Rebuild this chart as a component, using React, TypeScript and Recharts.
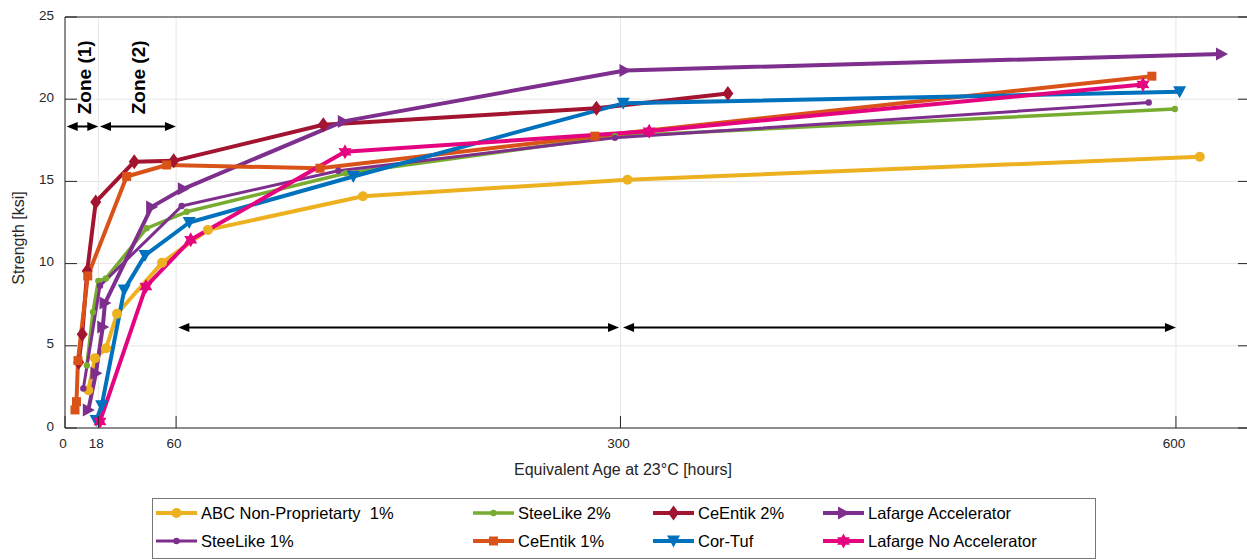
import React from 'react';
import { LineChart, Line, XAxis, YAxis, CartesianGrid, ReferenceLine, ReferenceDot } from 'recharts';

type Pt = { h: number; ksi: number };

// Strength vs equivalent age
const abcNonProp: Pt[] = [
  { h: 12.6, ksi: 2.3 }, { h: 16.2, ksi: 4.25 }, { h: 22.2, ksi: 4.85 }, { h: 28.1, ksi: 6.95 },
  { h: 52.4, ksi: 10.05 }, { h: 77.2, ksi: 12.05 }, { h: 160.9, ksi: 14.1 }, { h: 303.8, ksi: 15.1 },
  { h: 612.9, ksi: 16.5 },
];
const steeLike2: Pt[] = [
  { h: 11.8, ksi: 3.8 }, { h: 15.1, ksi: 7.05 }, { h: 18, ksi: 8.95 }, { h: 22.1, ksi: 9.1 },
  { h: 44.1, ksi: 12.15 }, { h: 65.7, ksi: 13.15 }, { h: 151.7, ksi: 15.5 }, { h: 297, ksi: 17.75 },
  { h: 599.4, ksi: 19.4 },
];
const ceEntik2: Pt[] = [
  { h: 7.4, ksi: 4.0 }, { h: 9.3, ksi: 5.7 }, { h: 12.0, ksi: 9.55 }, { h: 16.6, ksi: 13.75 },
  { h: 37.4, ksi: 16.2 }, { h: 58.7, ksi: 16.25 }, { h: 139.5, ksi: 18.45 }, { h: 287, ksi: 19.45 },
  { h: 358, ksi: 20.35 },
];
const lafargeAcc: Pt[] = [
  { h: 12.6, ksi: 1.1 }, { h: 16.7, ksi: 3.33 }, { h: 20.4, ksi: 6.15 }, { h: 21.6, ksi: 7.6 },
  { h: 46.8, ksi: 13.45 }, { h: 63.9, ksi: 14.55 }, { h: 150.3, ksi: 18.65 }, { h: 302.4, ksi: 21.75 },
  { h: 624.6, ksi: 22.75 },
];
const steeLike1: Pt[] = [
  { h: 9.9, ksi: 2.4 }, { h: 18.9, ksi: 8.65 }, { h: 63, ksi: 13.5 }, { h: 147.6, ksi: 15.65 },
  { h: 297, ksi: 17.65 }, { h: 585.3, ksi: 19.8 },
];
const ceEntik1: Pt[] = [
  { h: 5.4, ksi: 1.1 }, { h: 6.2, ksi: 1.6 }, { h: 7.0, ksi: 4.1 }, { h: 12.3, ksi: 9.25 },
  { h: 33.3, ksi: 15.3 }, { h: 54.9, ksi: 16.0 }, { h: 137.7, ksi: 15.8 }, { h: 286.2, ksi: 17.75 },
  { h: 587, ksi: 21.4 },
];
const corTuf: Pt[] = [
  { h: 16.8, ksi: 0.45 }, { h: 19.8, ksi: 1.35 }, { h: 32, ksi: 8.4 }, { h: 43.2, ksi: 10.5 },
  { h: 67.1, ksi: 12.5 }, { h: 155.7, ksi: 15.3 }, { h: 301.5, ksi: 19.75 }, { h: 602, ksi: 20.45 },
];
const lafargeNoAcc: Pt[] = [
  { h: 18.9, ksi: 0.4 }, { h: 43.7, ksi: 8.6 }, { h: 67.9, ksi: 11.45 }, { h: 151.2, ksi: 16.8 },
  { h: 315.5, ksi: 18.05 }, { h: 582.2, ksi: 20.9 },
];

const xTicks = [0, 18, 60, 300, 600];
const yTicks = [0, 5, 10, 15, 20, 25];

// annotation arrows [from h, to h, at ksi]
const zoneArrows = [[0.9, 18, 18.34], [18.9, 59.9, 18.34]];
const periodArrows = [[61.2, 299.2, 6.12], [301.4, 600, 6.12]];
const zoneLabels = [{ text: 'Zone (1)', h: 10.8, ksi: 21.33 }, { text: 'Zone (2)', h: 39.7, ksi: 21.33 }];

type Mk = 'circle' | 'dot' | 'diamond' | 'square' | 'triRight' | 'triDown' | 'hexagram';

const series: { name: string; data: Pt[]; color: string; marker: Mk; width: number }[] = [
  { name: 'ABC Non-Proprietarty  1%', data: abcNonProp, color: '#EDB120', marker: 'circle', width: 4 },
  { name: 'SteeLike 2%', data: steeLike2, color: '#77AC30', marker: 'dot', width: 3.5 },
  { name: 'CeEntik 2%', data: ceEntik2, color: '#A2142F', marker: 'diamond', width: 4 },
  { name: 'Lafarge Accelerator', data: lafargeAcc, color: '#7E2F8E', marker: 'triRight', width: 4 },
  { name: 'SteeLike 1%', data: steeLike1, color: '#7E2F8E', marker: 'dot', width: 3 },
  { name: 'CeEntik 1%', data: ceEntik1, color: '#D95319', marker: 'square', width: 4 },
  { name: 'Cor-Tuf', data: corTuf, color: '#0072BD', marker: 'triDown', width: 4 },
  { name: 'Lafarge No Accelerator', data: lafargeNoAcc, color: '#E5047F', marker: 'hexagram', width: 4 },
];

const FONT = '"Liberation Sans", Arial, Helvetica, sans-serif';
const AX = '#262626';
const TL = 12;
const BOTTOM_GAP = 12;
const LEFT_GAP = 11;

function marker(kind: Mk, cx: number, cy: number, color: string, key?: string) {
  if (cx == null || cy == null || isNaN(cx) || isNaN(cy)) return <g key={key} />;
  switch (kind) {
    case 'circle':
      return <circle key={key} cx={cx} cy={cy} r={5} fill={color} />;
    case 'dot':
      return <circle key={key} cx={cx} cy={cy} r={3.2} fill={color} />;
    case 'diamond':
      return <polygon key={key} fill={color} points={`${cx},${cy - 7.5} ${cx + 5.5},${cy} ${cx},${cy + 7.5} ${cx - 5.5},${cy}`} />;
    case 'square':
      return <rect key={key} x={cx - 4.5} y={cy - 4.5} width={9} height={9} fill={color} />;
    case 'triRight':
      return <polygon key={key} fill={color} points={`${cx + 6.5},${cy} ${cx - 5.5},${cy - 6.5} ${cx - 5.5},${cy + 6.5}`} />;
    case 'triDown':
      return <polygon key={key} fill={color} points={`${cx - 6.5},${cy - 5.5} ${cx + 6.5},${cy - 5.5} ${cx},${cy + 6.5}`} />;
    case 'hexagram': {
      const pts: string[] = [];
      for (let i = 0; i < 12; i++) {
        const r = i % 2 === 0 ? 7.5 : 4.2;
        const a = -Math.PI / 2 + (i * Math.PI) / 6;
        pts.push(`${cx + r * Math.cos(a)},${cy + r * Math.sin(a)}`);
      }
      return <polygon key={key} fill={color} points={pts.join(' ')} />;
    }
  }
  return <g key={key} />;
}

const BottomTick = (p: any) => {
  const { x, y, payload } = p;
  const ay = y - BOTTOM_GAP;
  return (
    <g>
      <line x1={x} y1={ay} x2={x} y2={ay - TL} stroke={AX} />
      <text x={x - 2} y={ay + 20.3} textAnchor="middle" fontSize={13.5} fill={AX} fontFamily={FONT}>{payload.value}</text>
    </g>
  );
};

const LeftTick = (p: any) => {
  const { x, y, payload } = p;
  const ax = x + LEFT_GAP;
  return (
    <g>
      <line x1={ax} y1={y} x2={ax + TL} y2={y} stroke={AX} />
      <text x={x} y={y + 2.5} textAnchor="end" fontSize={13.5} fill={AX} fontFamily={FONT}>{payload.value}</text>
    </g>
  );
};

const TopTick = (p: any) => <line x1={p.x} y1={p.y} x2={p.x} y2={p.y + TL} stroke={AX} />;
const RightTick = (p: any) => <line x1={p.x} y1={p.y} x2={p.x - TL} y2={p.y} stroke={AX} />;

const DoubleArrow = (p: any) => {
  const { x1, y1, x2, y2 } = p;
  const L = 11;
  const W = 4.5;
  return (
    <g>
      <line x1={x1 + L - 1} y1={y1} x2={x2 - L + 1} y2={y2} stroke="#000" strokeWidth={2} />
      <polygon points={`${x1},${y1} ${x1 + L},${y1 - W} ${x1 + L},${y1 + W}`} fill="#000" />
      <polygon points={`${x2},${y2} ${x2 - L},${y2 - W} ${x2 - L},${y2 + W}`} fill="#000" />
    </g>
  );
};

const legendCols = [156, 473, 653, 823];
const legendRows = [513, 541];

export default function App() {
  return (
    <div style={{ position: 'absolute', left: 0, top: 0, width: 1247, height: 559, overflow: 'hidden', background: '#fff', fontFamily: FONT }}>
      <LineChart width={1251} height={490} margin={{ top: 16, right: 0, bottom: 10, left: 10 }}>
        <CartesianGrid stroke="#e6e6e6" />
        <XAxis type="number" dataKey="h" domain={[0, 640]} ticks={xTicks} interval={0} height={52}
          tickLine={false} tickSize={0} tickMargin={BOTTOM_GAP} tick={BottomTick} axisLine={{ stroke: AX }} allowDataOverflow />
        <XAxis xAxisId="top" orientation="top" type="number" domain={[0, 640]} ticks={xTicks} interval={0} height={1}
          tickLine={false} tickSize={0} tickMargin={0} tick={TopTick} axisLine={{ stroke: AX }} allowDataOverflow />
        <YAxis type="number" domain={[0, 25]} ticks={yTicks} interval={0} width={55}
          tickLine={false} tickSize={0} tickMargin={LEFT_GAP} tick={LeftTick} axisLine={{ stroke: AX }} allowDataOverflow />
        <YAxis yAxisId="right" orientation="right" type="number" domain={[0, 25]} ticks={yTicks} interval={0} width={1}
          tickLine={false} tickSize={0} tickMargin={0} tick={RightTick} axisLine={{ stroke: AX }} allowDataOverflow />

        {series.map((s) => (
          <Line key={s.name} name={s.name} data={s.data} dataKey="ksi" type="linear" stroke={s.color} strokeWidth={s.width}
            strokeLinejoin="round" dot={(p: any) => marker(s.marker, p.cx, p.cy, s.color, `${s.name}-${p.index}`)}
            activeDot={false} isAnimationActive={false} />
        ))}

        {[...zoneArrows, ...periodArrows].map(([a, b, k], i) => (
          <ReferenceLine key={`arr-${i}`} segment={[{ x: a, y: k }, { x: b, y: k }]} shape={DoubleArrow} ifOverflow="visible" />
        ))}
        {zoneLabels.map((z) => (
          <ReferenceDot key={z.text} x={z.h} y={z.ksi} r={0} ifOverflow="visible"
            shape={(p: any) => (
              <text x={p.cx} y={p.cy} transform={`rotate(-90 ${p.cx} ${p.cy})`} textAnchor="middle" dominantBaseline="central"
                fontSize={19} fontWeight="bold" fontFamily={FONT} fill="#000">{z.text}</text>
            )} />
        ))}
      </LineChart>

      <div style={{ position: 'absolute', left: 423, top: 460, width: 400, textAlign: 'center', fontSize: 16, lineHeight: '20px', color: AX }}>
        Equivalent Age at 23°C [hours]
      </div>
      <div style={{ position: 'absolute', left: 19 - 100, top: 237.5 - 10, width: 200, height: 20, textAlign: 'center', fontSize: 16,
        lineHeight: '20px', color: AX, transform: 'rotate(-90deg)', transformOrigin: '100px 10px' }}>
        Strength [ksi]
      </div>

      <div style={{ position: 'absolute', left: 152, top: 498, width: 944, height: 61, boxSizing: 'border-box', border: '1px solid #777', background: '#fff' }} />
      {series.map((s, i) => {
        const left = legendCols[i % 4];
        const cy = legendRows[Math.floor(i / 4)];
        return (
          <div key={s.name} style={{ position: 'absolute', left, top: cy - 10, height: 20, display: 'flex', alignItems: 'center' }}>
            <svg width={41} height={20}>
              <line x1={0} y1={10} x2={41} y2={10} stroke={s.color} strokeWidth={s.width} />
              {marker(s.marker, 20.5, 10, s.color)}
            </svg>
            <span style={{ marginLeft: 4, fontSize: 16.5, lineHeight: '20px', color: '#000', whiteSpace: 'pre' }}>{s.name}</span>
          </div>
        );
      })}
    </div>
  );
}
